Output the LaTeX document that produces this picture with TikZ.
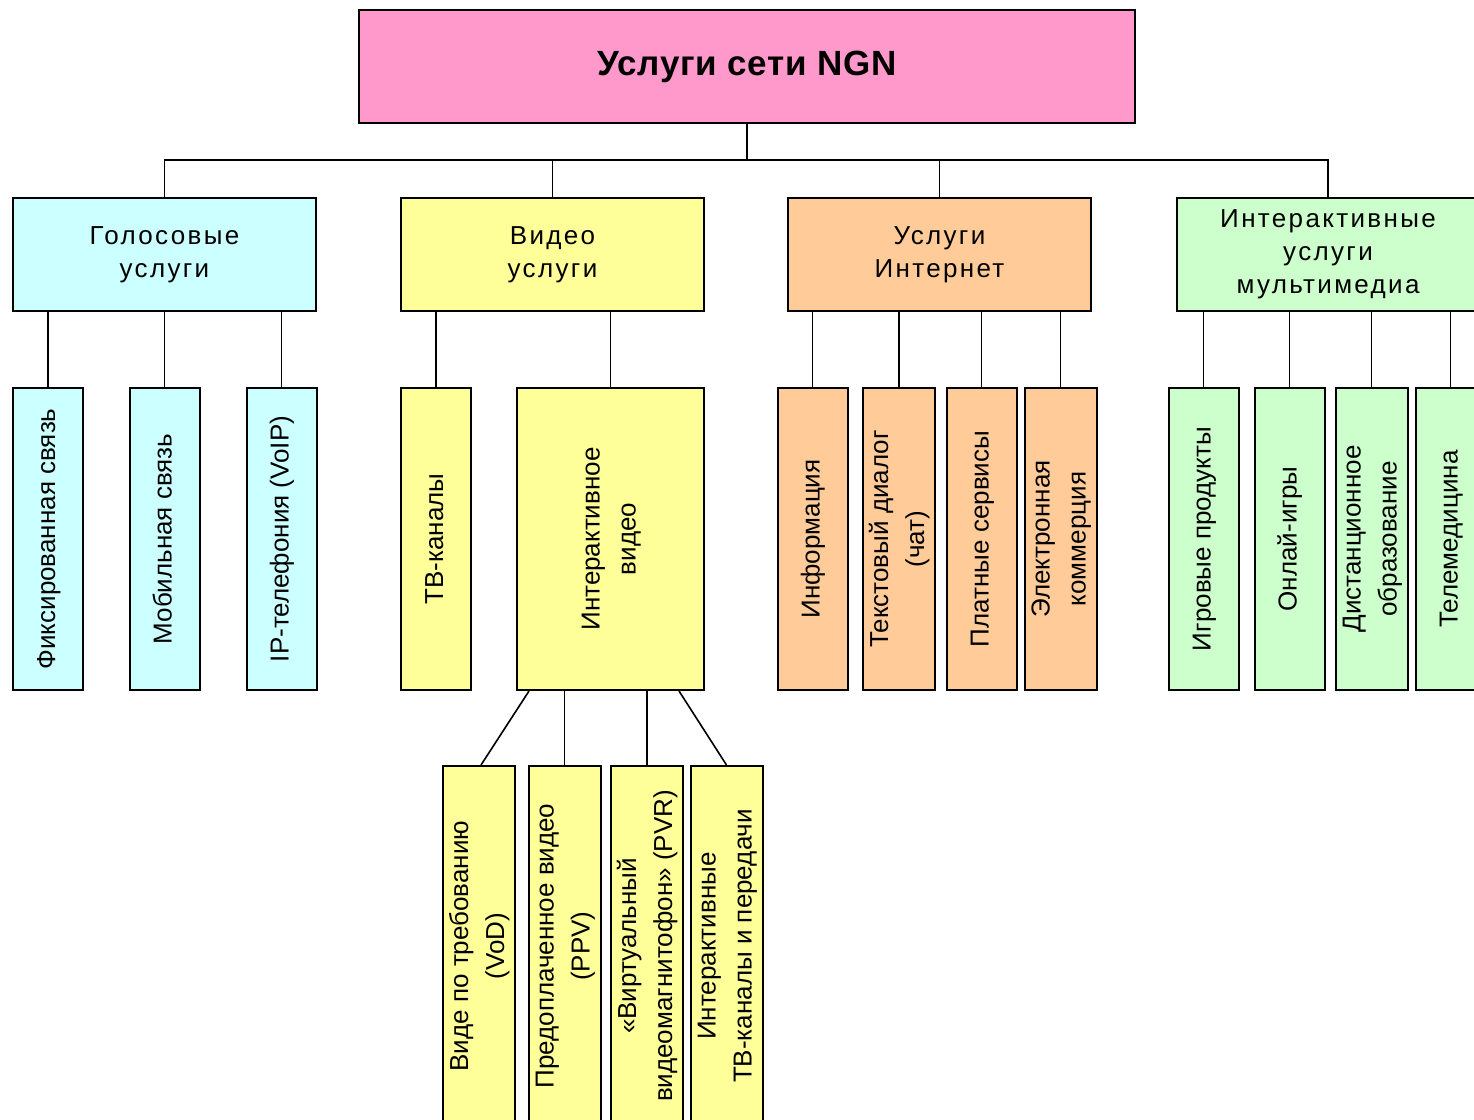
\documentclass[tikz,border=0pt]{standalone}
\usepackage{fontspec}
\setmainfont{Liberation Sans}
\usetikzlibrary{positioning}
\definecolor{ngnpink}{RGB}{255,153,204}
\definecolor{voicecyan}{RGB}{204,255,255}
\definecolor{videoyellow}{RGB}{255,255,153}
\definecolor{netorange}{RGB}{255,204,153}
\definecolor{mmgreen}{RGB}{204,255,204}
\newcommand{\vlabel}[1]{\rotatebox{90}{\begin{tabular}{@{}c@{}}#1\end{tabular}}}
\tikzset{
  rootbox/.style={draw, line width=2pt, fill=ngnpink, minimum width=776pt, minimum height=113pt,
    font=\fontsize{35}{40}\selectfont\bfseries\addfontfeature{LetterSpace=2}},
  groupbox/.style={draw, line width=2pt, minimum width=303pt, minimum height=113pt, align=center,
    font=\fontsize{26}{33}\selectfont\addfontfeature{LetterSpace=9}},
  leafbox/.style={draw, line width=2pt, minimum width=70pt, minimum height=302pt, inner sep=0pt,
    font=\fontsize{26}{36}\selectfont},
  subbox/.style={leafbox, minimum height=360pt},
  link/.style={line width=1.6pt}
}
\begin{document}
\begin{tikzpicture}[x=1pt, y=-1pt]
	\useasboundingbox (0,0) rectangle (1474,1119);
	\clip (0,0) rectangle (1474,1119);

	\node[rootbox] (root) at (747,66.5) {Услуги сети NGN};
	\coordinate (bus) at (747,160);

	\node[groupbox, fill=voicecyan] (voice) at (164.5,254.5) {Голосовые\\услуги};
	\node[groupbox, fill=videoyellow] (video) at (552.5,254.5) {Видео\\услуги};
	\node[groupbox, fill=netorange] (inet) at (939.5,254.5) {Услуги\\Интернет};
	\node[groupbox, fill=mmgreen] (mm) at (1328,254.5) {Интерактивные\\услуги\\мультимедиа};

	\node[leafbox, fill=voicecyan] (fix) at (48,539) {\vlabel{Фиксированная связь}};
	\node[leafbox, fill=voicecyan] (mob) at (164.5,539) {\vlabel{Мобильная связь}};
	\node[leafbox, fill=voicecyan] (voip) at (281.5,539) {\vlabel{IP-телефония (VoIP)}};

	\node[leafbox, fill=videoyellow] (tv) at (436,539) {\vlabel{ТВ-каналы}};
	\node[leafbox, fill=videoyellow, minimum width=187pt] (ivid) at (610.5,539) {\vlabel{Интерактивное\\видео}};

	\node[leafbox, fill=netorange] (info) at (812.5,539) {\vlabel{Информация}};
	\node[leafbox, fill=netorange] (chat) at (899,539) {\vlabel{Текстовый диалог\\(чат)}};
	\node[leafbox, fill=netorange] (paid) at (981.5,539) {\vlabel{Платные сервисы}};
	\node[leafbox, fill=netorange] (ecom) at (1060.5,539) {\vlabel{Электронная\\коммерция}};

	\node[leafbox, fill=mmgreen] (games) at (1203.5,539) {\vlabel{Игровые продукты}};
	\node[leafbox, fill=mmgreen] (online) at (1289.5,539) {\vlabel{Онлай-игры}};
	\node[leafbox, fill=mmgreen] (dist) at (1371.5,539) {\vlabel{Дистанционное\\образование}};
	\node[leafbox, fill=mmgreen] (tele) at (1450.5,539) {\vlabel{Телемедицина}};

	\node[subbox, fill=videoyellow] (vod) at (479,946) {\vlabel{Виде по требованию\\(VoD)}};
	\node[subbox, fill=videoyellow] (ppv) at (564.5,946) {\vlabel{Предоплаченное видео\\(PPV)}};
	\node[subbox, fill=videoyellow] (pvr) at (647,946) {\vlabel{«Виртуальный\\видеомагнитофон» (PVR)}};
	\node[subbox, fill=videoyellow] (itv) at (726.5,946) {\vlabel{Интерактивные\\ТВ-каналы и передачи}};

	\draw[link] (root.south) -- (bus);
	\draw[link] (voice.north) |- (bus) -| (mm.north);
	\draw[link] (video.north) -- (video.north |- bus);
	\draw[link] (inet.north) -- (inet.north |- bus);

	\foreach \leaf in {fix, mob, voip}
		\draw[link] (\leaf.north) -- (\leaf.north |- voice.south);
	\foreach \leaf in {tv, ivid}
		\draw[link] (\leaf.north) -- (\leaf.north |- video.south);
	\foreach \leaf in {info, chat, paid, ecom}
		\draw[link] (\leaf.north) -- (\leaf.north |- inet.south);
	\foreach \leaf in {games, online, dist, tele}
		\draw[link] (\leaf.north) -- (\leaf.north |- mm.south);

	\draw[link] ([xshift=13pt]ivid.south west) -- ([xshift=2pt]vod.north);
	\draw[link] (ppv.north) -- (ppv.north |- ivid.south);
	\draw[link] (pvr.north) -- (pvr.north |- ivid.south);
	\draw[link] ([xshift=-26pt]ivid.south east) -- (itv.north);
\end{tikzpicture}
\end{document}
